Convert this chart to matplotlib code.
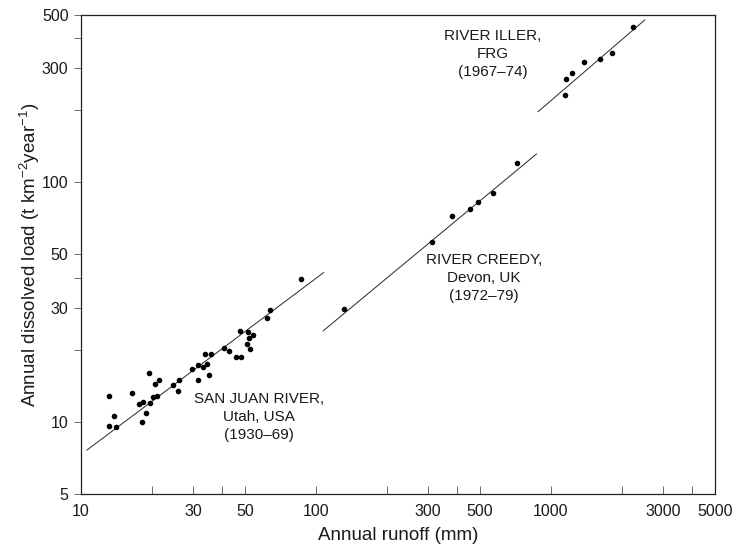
import numpy as np
import matplotlib
matplotlib.use("Agg")
import matplotlib.pyplot as plt
from matplotlib.ticker import FixedLocator, NullFormatter

plt.rcParams['font.family'] = ['Liberation Sans', 'DejaVu Sans']
plt.rcParams['mathtext.default'] = 'regular'

# San Juan River, Utah (1930-69)
sj_runoff = [13.1, 13.8, 13.2, 14.1, 16.5, 19.4, 17.6, 18.4, 18.1, 18.9,
             19.7, 20.2, 21.1, 20.6, 21.4, 24.6, 26.0, 25.9, 29.7, 31.4,
             31.4, 33.0, 34.4, 35.0, 33.8, 35.8, 40.7, 42.8, 45.5, 48.0,
             47.6, 51.2, 54.0, 52.0, 50.9, 52.2, 61.9, 63.9, 86.3]
sj_load = [12.8, 10.6, 9.6, 9.5, 13.2, 16.0, 11.9, 12.1, 10.0, 10.9,
           12.0, 12.7, 12.8, 14.4, 15.0, 14.3, 14.9, 13.4, 16.6, 17.2,
           14.9, 16.9, 17.4, 15.7, 19.2, 19.3, 20.4, 19.8, 18.7, 18.7,
           24.0, 23.7, 23.1, 22.5, 21.2, 20.1, 27.1, 29.3, 39.5]
sj_line_x = [10.6, 107.8]
sj_line_y = [7.63, 42.0]

# River Creedy, Devon (1972-79)
cr_runoff = [131.9, 310.7, 379.0, 452.0, 487.6, 566.5, 714.5]
cr_load = [29.5, 56.2, 72.6, 77.4, 82.6, 90.0, 120.9]
cr_line_x = [107.4, 869.0]
cr_line_y = [24.0, 131.4]

# River Iller, FRG (1967-74)
il_runoff = [1155, 1158, 1228, 1382, 1627, 1824, 2239]
il_load = [232.4, 269.5, 285.5, 317.3, 326.6, 347.0, 446.9]
il_line_x = [883, 2512]
il_line_y = [197.4, 476.6]

x_major = [10, 30, 50, 100, 300, 500, 1000, 3000, 5000]
x_minor = [20, 40, 200, 400, 2000, 4000]
y_major = [5, 10, 30, 50, 100, 300, 500]
y_minor = [20, 40, 200, 400]

fig = plt.figure(figsize=(7.38, 5.45), dpi=100)
ax = fig.add_axes([0.1098, 0.0936, 0.8590, 0.8789])

for xs, ys, lx, ly in [(sj_runoff, sj_load, sj_line_x, sj_line_y),
                       (cr_runoff, cr_load, cr_line_x, cr_line_y),
                       (il_runoff, il_load, il_line_x, il_line_y)]:
    ax.plot(lx, ly, color='#333333', lw=0.75)
    ax.scatter(xs, ys, s=9, color='black', zorder=3)

ax.set_xscale('log')
ax.set_yscale('log')
ax.set_xlim(10, 5000)
ax.set_ylim(5, 500)

ax.xaxis.set_major_locator(FixedLocator(x_major))
ax.xaxis.set_minor_locator(FixedLocator(x_minor))
ax.yaxis.set_major_locator(FixedLocator(y_major))
ax.yaxis.set_minor_locator(FixedLocator(y_minor))
ax.set_xticklabels([str(v) for v in x_major])
ax.set_yticklabels([str(v) for v in y_major])
ax.xaxis.set_minor_formatter(NullFormatter())
ax.yaxis.set_minor_formatter(NullFormatter())

ax.tick_params(axis='x', which='both', direction='in', length=6, width=0.6,
               labelsize=11.5, pad=7, color='#555555', labelcolor='#1a1a1a')
ax.tick_params(axis='y', which='both', direction='out', length=5, width=0.6,
               labelsize=11.5, pad=4, color='#555555', labelcolor='#1a1a1a')
for sp in ax.spines.values():
    sp.set_linewidth(0.9)
    sp.set_color('#222222')

ax.set_xlabel('Annual runoff (mm)', fontsize=13.5, labelpad=6, color='#1a1a1a')
ax.set_ylabel('Annual dissolved load (t km$^{-2}$year$^{-1}$)', fontsize=13.5,
              labelpad=0, color='#1a1a1a')

ax.text(57, 10.5, 'SAN JUAN RIVER,\nUtah, USA\n(1930\u201369)', ha='center', va='center',
        fontsize=11, linespacing=1.35, color='#1a1a1a')
ax.text(519, 39.9, 'RIVER CREEDY,\nDevon, UK\n(1972\u201379)', ha='center', va='center',
        fontsize=11, linespacing=1.35, color='#1a1a1a')
ax.text(566, 343, 'RIVER ILLER,\nFRG\n(1967\u201374)', ha='center', va='center',
        fontsize=11, linespacing=1.35, color='#1a1a1a')

fig.savefig('out.png', dpi=100)
